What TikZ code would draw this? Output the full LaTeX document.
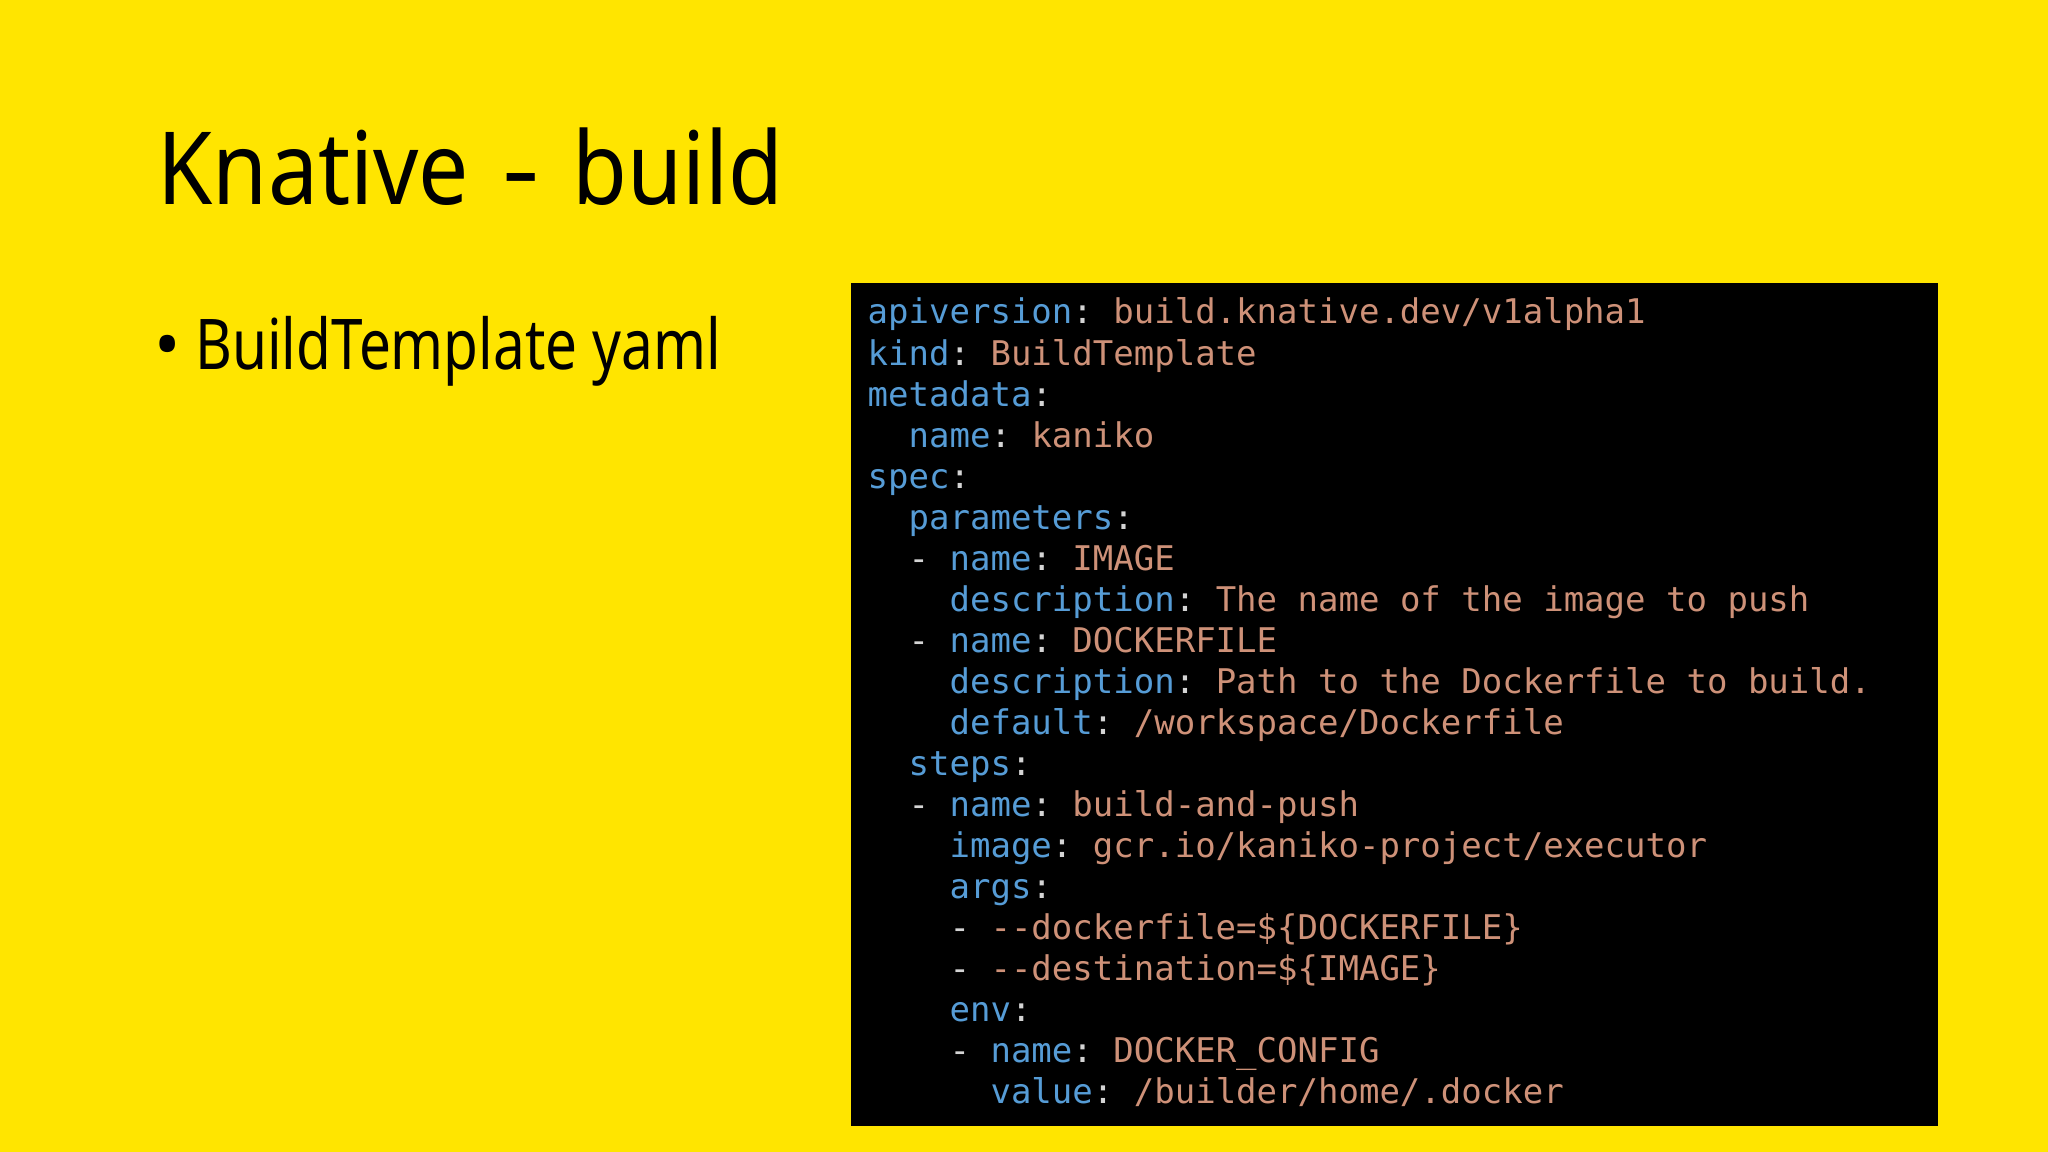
\documentclass[tikz,border=0pt]{standalone}
\usepackage{fontspec}
\setmainfont{Noto Sans}
\setmonofont{DejaVu Sans Mono}
\newfontfamily\titlefont[FakeStretch=0.885]{Noto Sans}
\newfontfamily\itemfont[FakeStretch=0.81]{Noto Sans}
\usetikzlibrary{positioning}
\definecolor{slidebg}{RGB}{255,229,0}
\definecolor{keyblue}{RGB}{86,156,214}
\definecolor{valorange}{RGB}{206,145,120}
\definecolor{punct}{RGB}{212,212,212}
\newcommand{\ky}[1]{\textcolor{keyblue}{#1}}
\newcommand{\vl}[1]{\textcolor{valorange}{#1}}

\begin{document}
\begin{tikzpicture}[x=0.01cm,y=0.01cm]
        \tikzstyle{codeline}=[anchor=base west, inner sep=0pt, text=punct, font=\ttfamily\fontsize{9.67pt}{11pt}\selectfont]
        \fill[slidebg] (0,0) rectangle (2048,1152);
        \fill[black] (851,26) rectangle (1938,869);
        \node[anchor=base west, inner sep=0pt, font=\titlefont\fontsize{28.7pt}{32pt}\selectfont] (title) at (157,947) {Knative\hspace{0.33cm}\scalebox{1.3}[1]{-}\hspace{0.33cm}build};
        \node[anchor=base west, inner sep=0pt, font=\fontsize{19.9pt}{24pt}\selectfont] (bullet) at (154,782) {\textbullet};
        \node[right = 0.13cm of bullet.base east, anchor=base west, inner sep=0pt, font=\itemfont\fontsize{19.9pt}{24pt}\selectfont] (item) {BuildTemplate yaml};
        % yaml listing, one node per line
        \node[codeline] (l1) at (867,828) {\ky{apiversion}: \vl{build.knative.dev/v1alpha1}};
        \node[below = 0.41cm of l1.base west, codeline] (l2) {\ky{kind}: \vl{BuildTemplate}};
        \node[below = 0.41cm of l2.base west, codeline] (l3) {\ky{metadata}:};
        \node[below = 0.41cm of l3.base west, codeline] (l4) {\phantom{xx}\ky{name}: \vl{kaniko}};
        \node[below = 0.41cm of l4.base west, codeline] (l5) {\ky{spec}:};
        \node[below = 0.41cm of l5.base west, codeline] (l6) {\phantom{xx}\ky{parameters}:};
        \node[below = 0.41cm of l6.base west, codeline] (l7) {\phantom{xx}- \ky{name}: \vl{IMAGE}};
        \node[below = 0.41cm of l7.base west, codeline] (l8) {\phantom{xxxx}\ky{description}: \vl{The name of the image to push}};
        \node[below = 0.41cm of l8.base west, codeline] (l9) {\phantom{xx}- \ky{name}: \vl{DOCKERFILE}};
        \node[below = 0.41cm of l9.base west, codeline] (l10) {\phantom{xxxx}\ky{description}: \vl{Path to the Dockerfile to build.}};
        \node[below = 0.41cm of l10.base west, codeline] (l11) {\phantom{xxxx}\ky{default}: \vl{/workspace/Dockerfile}};
        \node[below = 0.41cm of l11.base west, codeline] (l12) {\phantom{xx}\ky{steps}:};
        \node[below = 0.41cm of l12.base west, codeline] (l13) {\phantom{xx}- \ky{name}: \vl{build-and-push}};
        \node[below = 0.41cm of l13.base west, codeline] (l14) {\phantom{xxxx}\ky{image}: \vl{gcr.io/kaniko-project/executor}};
        \node[below = 0.41cm of l14.base west, codeline] (l15) {\phantom{xxxx}\ky{args}:};
        \node[below = 0.41cm of l15.base west, codeline] (l16) {\phantom{xxxx}- \vl{--dockerfile=\$\{DOCKERFILE\}}};
        \node[below = 0.41cm of l16.base west, codeline] (l17) {\phantom{xxxx}- \vl{--destination=\$\{IMAGE\}}};
        \node[below = 0.41cm of l17.base west, codeline] (l18) {\phantom{xxxx}\ky{env}:};
        \node[below = 0.41cm of l18.base west, codeline] (l19) {\phantom{xxxx}- \ky{name}: \vl{DOCKER\_CONFIG}};
        \node[below = 0.41cm of l19.base west, codeline] (l20) {\phantom{xxxxxx}\ky{value}: \vl{/builder/home/.docker}};
      \end{tikzpicture}
\end{document}
